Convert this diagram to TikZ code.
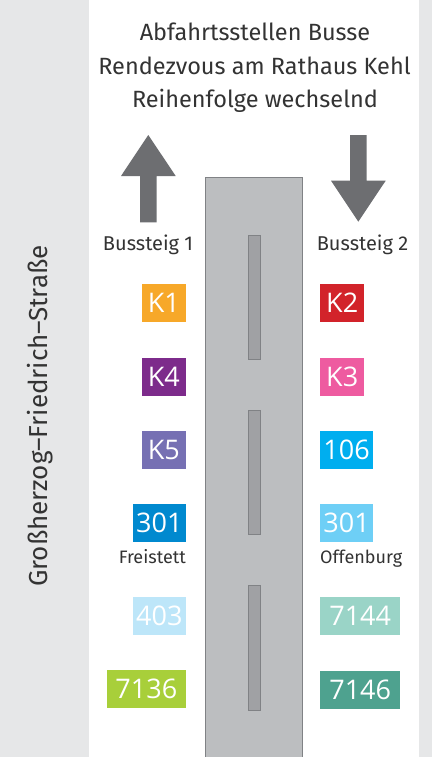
\documentclass[tikz,border=0pt]{standalone}
\usepackage{fontspec}
\setmainfont{Fira Sans}
\newfontfamily\badgefont{Open Sans}
\definecolor{bggray}{HTML}{E6E7E8}
\definecolor{arrowgray}{HTML}{6D6E71}
\definecolor{roadfill}{HTML}{BCBEC0}
\definecolor{roadedge}{HTML}{808285}
\definecolor{stripfill}{HTML}{A0A1A4}
\definecolor{txt}{HTML}{333333}
\definecolor{ckone}{HTML}{F7A829}
\definecolor{ckfour}{HTML}{7D2B8B}
\definecolor{ckfive}{HTML}{7670B3}
\definecolor{cktwo}{HTML}{D2232A}
\definecolor{ckthree}{HTML}{EE5BA0}
\definecolor{cbus}{HTML}{00AEEF}
\definecolor{cleft}{HTML}{0089CF}
\definecolor{cright}{HTML}{6ECFF6}
\definecolor{cfour}{HTML}{BDE6F9}
\definecolor{csevenone}{HTML}{A8CF3A}
\definecolor{csevenfour}{HTML}{9AD4C7}
\definecolor{csevensix}{HTML}{4EA28F}
\tikzset{
  titletext/.style={text=txt, font=\fontsize{23.5}{28}\selectfont, anchor=base, inner sep=0},
  steiglabel/.style={text=txt, font=\fontsize{20}{24}\selectfont, anchor=base, inner sep=0},
  placelabel/.style={text=txt, font=\fontsize{18}{22}\selectfont, inner sep=0},
  badge/.style={fill=#1, text=white, font=\badgefont\fontsize{27}{27}\selectfont, inner sep=0, minimum height=38},
  strip/.style={draw=roadedge, fill=stripfill, line width=0.8pt},
}
\begin{document}
\begin{tikzpicture}[x=1pt,y=-1pt]
\useasboundingbox (0,0) rectangle (432,757);
\fill[bggray] (0,0) rectangle (432,757);
\fill[white] (89,0) rectangle (419,757);
% title
\node[titletext] (t1) at (255,41) {Abfahrtsstellen Busse};
\node[titletext] (t2) at (254.5,74.5) {Rendezvous am Rathaus Kehl};
\node[titletext] (t3) at (255,108) {Reihenfolge wechselnd};
% street name
\node[text=txt, font=\fontsize{26}{30}\selectfont, rotate=90, inner sep=0] (street) at (40,416) {Großherzog–Friedrich–Straße};
% road
\draw[draw=roadedge, fill=roadfill, line width=0.8pt] (205.7,177.7) rectangle (302.7,770);
\draw[strip] (248.3,235) rectangle (260.7,359.3);
\draw[strip] (248.3,410) rectangle (260.7,534.3);
\draw[strip] (248.3,585.7) rectangle (260.7,710);
% arrows
\fill[arrowgray] (148.3,135) -- (175.7,176) -- (156.7,176) -- (156.7,222.3) -- (140,222.3) -- (140,176) -- (121,176) -- cycle;
\fill[arrowgray] (358.3,221.7) -- (385.7,180.7) -- (366.7,180.7) -- (366.7,135) -- (350,135) -- (350,180.7) -- (331,180.7) -- cycle;
% labels
\node[steiglabel] (b1) at (148,250.7) {Bussteig 1};
\node[steiglabel] (b2) at (362.5,250.7) {Bussteig 2};
% left badges
\node[badge=ckone, minimum width=44, anchor=east] (k1) at (186,303) {K1};
\node[badge=ckfour, minimum width=44, anchor=east] (k4) at (186,376.7) {K4};
\node[badge=ckfive, minimum width=44, anchor=east] (k5) at (186,450) {K5};
\node[badge=cleft, minimum width=53, anchor=east] (l301) at (186,523) {301};
\node[placelabel, anchor=base east] (frei) at (186,563) {Freistett};
\node[badge=cfour, minimum width=53, anchor=east] (l403) at (186,616) {403};
\node[badge=csevenone, minimum width=79, anchor=east] (l7136) at (186,689) {7136};
% right badges
\node[badge=cktwo, minimum width=44, anchor=west] (k2) at (320,303) {K2};
\node[badge=ckthree, minimum width=44, anchor=west] (k3) at (320,376.7) {K3};
\node[badge=cbus, minimum width=52.7, anchor=west] (r106) at (320,450) {106};
\node[badge=cright, minimum width=52.7, anchor=west] (r301) at (320,523) {301};
\node[placelabel, anchor=base west] (offen) at (320,563) {Offenburg};
\node[badge=csevenfour, minimum width=80, anchor=west] (r7144) at (320,616) {7144};
\node[badge=csevensix, minimum width=80, anchor=west] (r7146) at (320,690) {7146};
\end{tikzpicture}
\end{document}
